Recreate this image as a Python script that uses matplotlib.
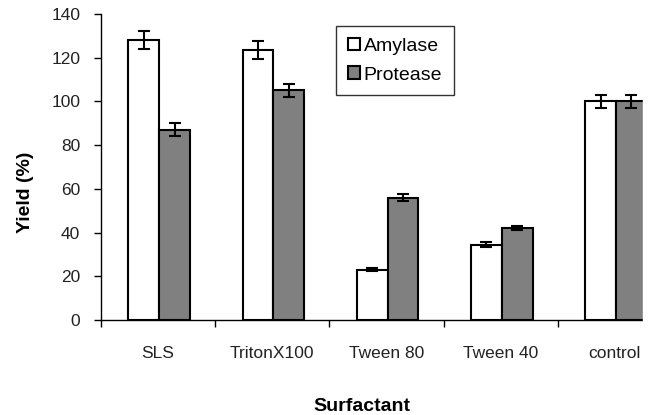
import matplotlib.pyplot as plt
import matplotlib.patches as mpatches
import numpy as np

plt.rcParams['font.family'] = ['Liberation Sans', 'DejaVu Sans']

categories = ['SLS', 'TritonX100', 'Tween 80', 'Tween 40', 'control']
amylase = [128, 123.5, 23, 34.5, 100]
amylase_err = [4, 4, 0.6, 1, 3]
protease = [87, 105, 56, 42, 100]
protease_err = [3, 3, 1.5, 1, 3]

fig = plt.figure(figsize=(6.57, 4.15), dpi=100)
# axes runs past the right edge, like the cropped original
ax = fig.add_axes([101 / 657, 95 / 415, 571 / 657, 306 / 415])

x = np.arange(len(categories))
w = 0.27
ekw = dict(elinewidth=1.5, capthick=1.5, capsize=4, ecolor='black')
ax.bar(x - w / 2 + 0.01, amylase, w, yerr=amylase_err, color='white',
       edgecolor='black', linewidth=1.5, label='Amylase', error_kw=ekw)
ax.bar(x + w / 2 + 0.01, protease, w, yerr=protease_err, color='#808080',
       edgecolor='black', linewidth=1.5, label='Protease', error_kw=ekw)

ax.set_xlim(-0.5, len(categories) - 0.5)
ax.set_ylim(0, 140)
ax.set_yticks(np.arange(0, 141, 20))
ax.set_xticks(x)
ax.set_xticklabels(categories, fontsize=12.5, color='#222222')
ax.set_xticks(np.arange(-0.5, len(categories), 1), minor=True)
ax.tick_params(axis='x', which='major', length=0, pad=19)
ax.tick_params(axis='x', which='minor', length=5, width=1, direction='out')
ax.tick_params(axis='y', length=5, width=1, pad=10, labelsize=12.5,
               labelcolor='#222222')

for s in ['top', 'right']:
    ax.spines[s].set_visible(False)
ax.spines['left'].set_linewidth(1)
ax.spines['bottom'].set_linewidth(1)

fig.text(26 / 657, 1 - 192 / 415, 'Yield (%)', fontweight='bold', fontsize=14,
         rotation=90, ha='center', va='center')
fig.text(362 / 657, 1 - 406 / 415, 'Surfactant', fontweight='bold', fontsize=14,
         ha='center', va='center')

leg = ax.legend(loc='upper left', bbox_to_anchor=(235 / 571, 1 - 12 / 306),
                fontsize=14, frameon=True, fancybox=False, framealpha=1,
                handlelength=0.62, handleheight=0.62, handletextpad=0.2,
                borderpad=0.6, labelspacing=0.6, borderaxespad=0)
leg.get_frame().set_edgecolor('#333333')
leg.get_frame().set_linewidth(1)

# the original image is cut off on the right
fig.patches.append(mpatches.Rectangle((643 / 657, 0), 14 / 657, 1,
                                      transform=fig.transFigure, color='white',
                                      zorder=10))

fig.savefig('out.png', dpi=100)
